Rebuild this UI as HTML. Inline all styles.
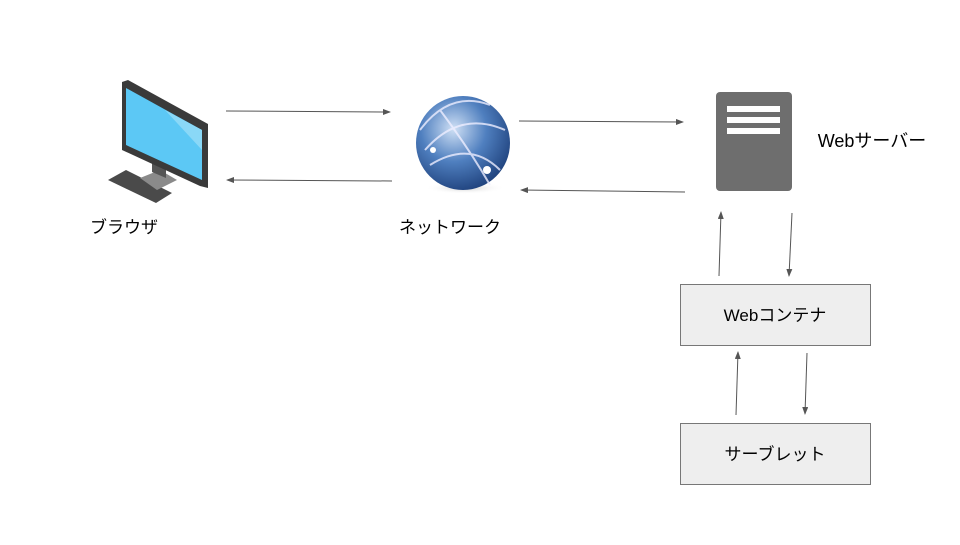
<!DOCTYPE html>
<html><head><meta charset="utf-8"><style>
body{margin:0;background:#fff;width:960px;height:540px;overflow:hidden;font-family:"Liberation Sans","Noto Sans CJK JP",sans-serif}
</style></head><body>
<svg width="960" height="540" viewBox="0 0 960 540" xmlns="http://www.w3.org/2000/svg">
<defs>
<marker id="a" markerWidth="8" markerHeight="6" refX="7" refY="3" orient="auto" markerUnits="userSpaceOnUse"><path d="M0,0 L8,3 L0,6z" fill="#555"/></marker>
<radialGradient id="g" cx="0.4" cy="0.35" r="0.7"><stop offset="0" stop-color="#cfe0f5"/><stop offset="0.5" stop-color="#4f7fbf"/><stop offset="1" stop-color="#1d3f7a"/></radialGradient>
<radialGradient id="sh" cx="0.5" cy="0.5" r="0.5"><stop offset="0" stop-color="#999" stop-opacity="0.5"/><stop offset="1" stop-color="#fff" stop-opacity="0"/></radialGradient>
</defs>
<polygon points="108,180 126,170 172,193 156,203" fill="#4a4a4a"/>
<polygon points="140,178 160,170 177,180 157,190" fill="#8a8a8a"/>
<polygon points="152,162 166,168 166,178 152,172" fill="#555"/>
<polygon points="122,82 128,80 208,124 208,188 200,186 122,150" fill="#3a3a3a"/>
<polygon points="126,88 202,130 202,180 126,145" fill="#5cc8f5"/>
<polygon points="165,110 202,130 202,150" fill="#8ad8f7"/>
<ellipse cx="465" cy="188" rx="40" ry="6" fill="url(#sh)"/>
<circle cx="463" cy="143" r="47" fill="url(#g)"/>
<path d="M425,150 Q460,110 505,130 M430,165 Q470,140 500,170 M440,110 Q470,150 490,185 M420,130 Q450,90 490,105" stroke="#eef" stroke-width="2" fill="none" opacity="0.8"/>
<circle cx="487" cy="170" r="4" fill="#fff"/><circle cx="433" cy="150" r="3" fill="#fff"/>
<rect x="716" y="92" width="76" height="99" rx="4" fill="#6e6e6e"/>
<rect x="727" y="106" width="53" height="6" fill="#fff"/>
<rect x="727" y="117" width="53" height="6" fill="#fff"/>
<rect x="727" y="128" width="53" height="6" fill="#fff"/>
<g stroke="#555" stroke-width="1" marker-end="url(#a)">
<line x1="226" y1="111" x2="390" y2="112"/>
<line x1="392" y1="181" x2="227" y2="180"/>
<line x1="519" y1="121" x2="683" y2="122"/>
<line x1="685" y1="192" x2="521" y2="190"/>
<line x1="719" y1="276" x2="721" y2="212"/>
<line x1="792" y1="213" x2="789" y2="276"/>
<line x1="736" y1="415" x2="738" y2="352"/>
<line x1="807" y1="353" x2="805" y2="414"/>
</g>
<rect x="680.5" y="284.5" width="190" height="61" fill="#eeeeee" stroke="#777"/>
<rect x="680.5" y="423.5" width="190" height="61" fill="#eeeeee" stroke="#777"/>
<g font-size="17" fill="#000" text-anchor="middle" font-family="Liberation Sans, Noto Sans CJK JP, sans-serif">
<text x="775" y="321">Webコンテナ</text>
<text x="775" y="460">サーブレット</text>
<text x="124" y="233">ブラウザ</text>
<text x="450" y="233">ネットワーク</text>
<text x="872" y="147" font-size="18">Webサーバー</text>
</g>
</svg>
</body></html>
